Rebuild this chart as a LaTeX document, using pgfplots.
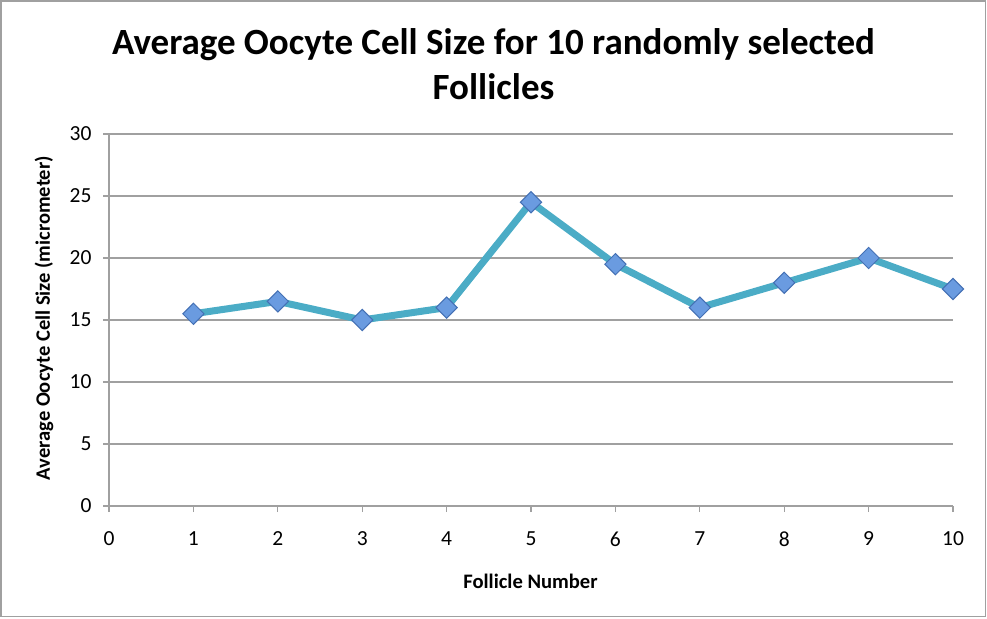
\documentclass[border=0pt]{standalone}
\usepackage{fontspec}
\setmainfont{Carlito}
\usepackage{pgfplots}
\pgfplotsset{compat=1.18}

\definecolor{linecol}{HTML}{4BACC6}
\definecolor{markfill}{HTML}{6A9BE0}
\definecolor{markedge}{HTML}{4470B4}
\definecolor{gridcol}{HTML}{A0A0A0}

\begin{document}
\begin{tikzpicture}
\path (-109pt,-112pt) rectangle (878pt,506pt);
\draw[gridcol, line width=1.2pt] (-108pt,-110.5pt) rectangle (876.5pt,505pt);

\begin{axis}[
    scale only axis,
    width=844pt, height=372pt,
    xmin=0, xmax=10, ymin=0, ymax=30,
    xtick={0,1,...,10}, ytick={0,5,...,30},
    axis x line=bottom, axis y line=left,
    axis line style={-, gridcol, line width=1.3pt},
    ymajorgrids,
    grid style={gridcol, line width=1.3pt},
    tick align=outside,
    major tick length=6pt,
    tick style={gridcol, line width=1.3pt},
    /pgf/number format/assume math mode=true,
    ticklabel style={font=\fontsize{21.5}{26}\selectfont},
    xticklabel style={yshift=-16pt},
    yticklabel style={xshift=-8pt},
    clip=false,
]
\addplot[linecol, line width=7pt, mark=square*,
    mark size=7.5pt,
    mark options={rotate=45, fill=markfill, draw=markedge, line width=1pt}]
  coordinates {(1,15.5) (2,16.5) (3,15) (4,16) (5,24.5) (6,19.5) (7,16) (8,18) (9,20) (10,17.5)};
\end{axis}

\node[anchor=base, font=\fontsize{37}{44}\selectfont\bfseries] at (384.5pt,451pt) {Average Oocyte Cell Size for 10 randomly selected};
\node[anchor=base, font=\fontsize{37}{44}\selectfont\bfseries] at (384.5pt,406pt) {Follicles};
\node[anchor=base, font=\fontsize{20.6}{24}\selectfont\bfseries] at (421.5pt,-82pt) {Follicle Number};
\node[anchor=base, rotate=90, font=\fontsize{20.5}{24}\selectfont\bfseries] at (-59pt,188pt) {Average Oocyte Cell Size (micrometer)};
\end{tikzpicture}
\end{document}
